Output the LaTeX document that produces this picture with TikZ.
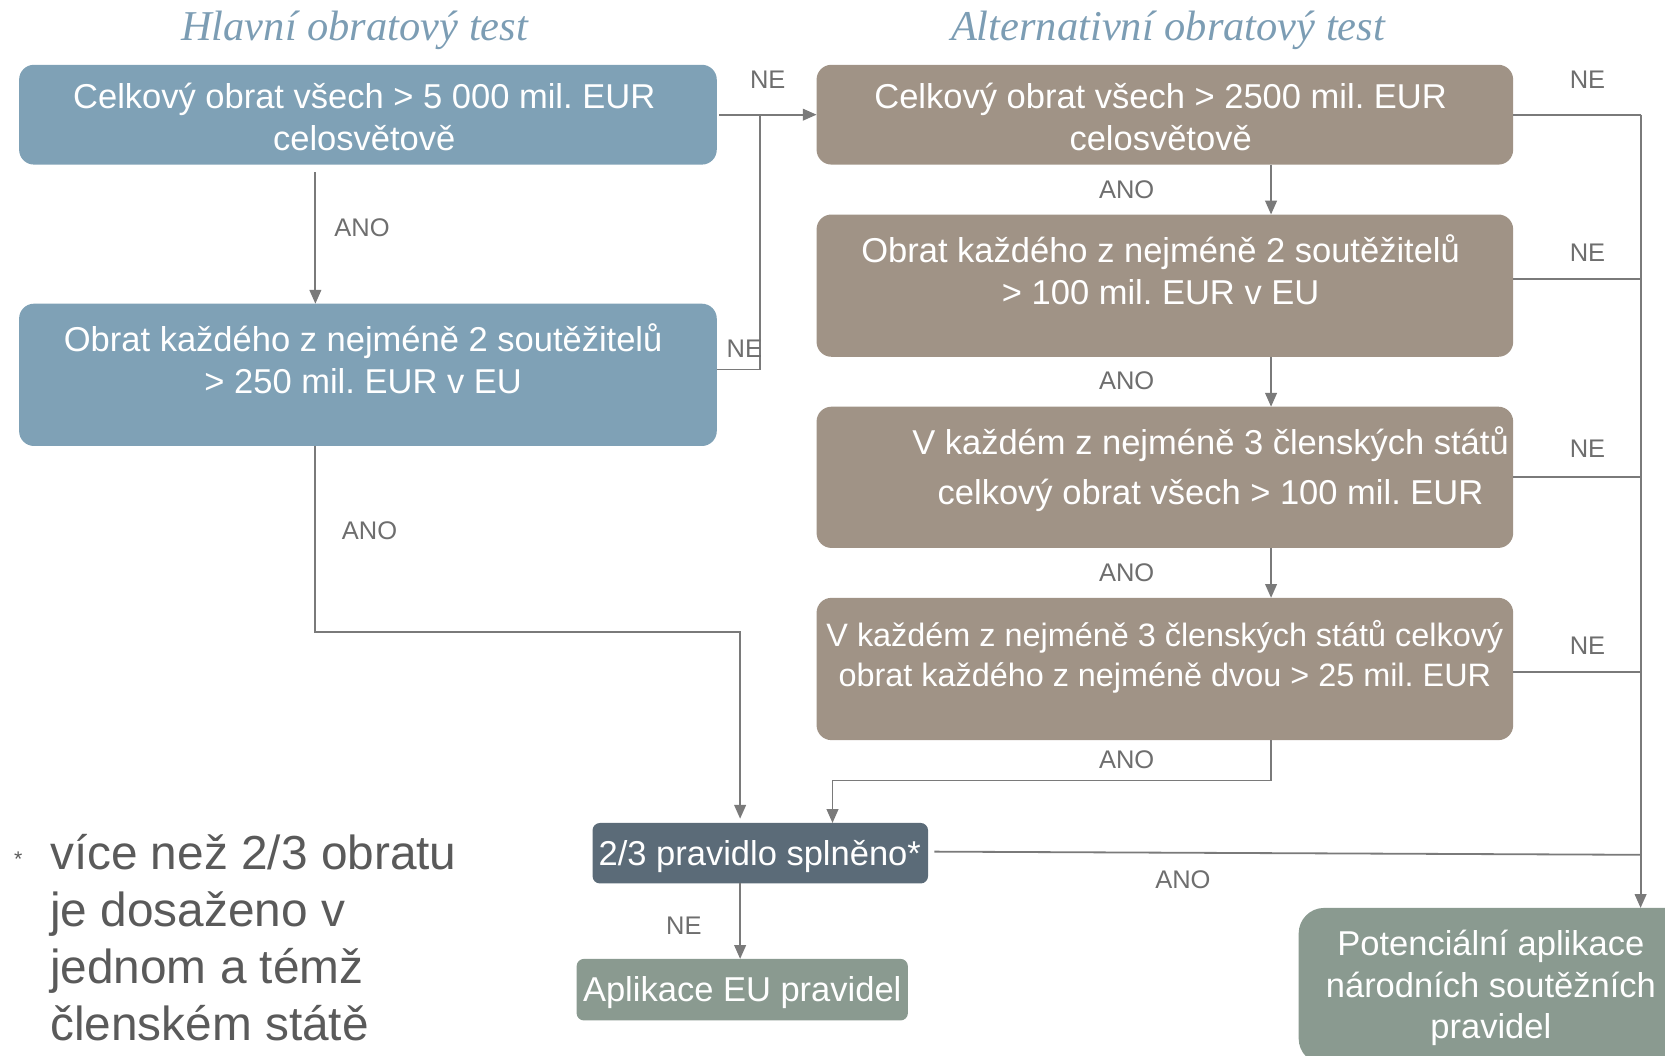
\documentclass[tikz,border=0pt]{standalone}
\usepackage{fontspec}
\setmainfont{Liberation Sans}
\newfontfamily\headfont{Liberation Serif}
\usetikzlibrary{arrows.meta,calc}
\frenchspacing

\definecolor{boxblue}{HTML}{7FA1B6}
\definecolor{boxbrown}{HTML}{A09386}
\definecolor{boxslate}{HTML}{5B6B78}
\definecolor{boxsage}{HTML}{8A9A90}
\definecolor{linegray}{HTML}{7A7A7A}
\definecolor{labelgray}{HTML}{6E6E6E}
\definecolor{headblue}{HTML}{7C9DB4}
\definecolor{notegray}{HTML}{5A5A5A}

\begin{document}
\begin{tikzpicture}[x=1pt,y=-1pt,
  panel/.style={draw=none, inner sep=0, outer sep=0},
  boxtext/.style={text=white, inner sep=0, align=center, anchor=north,
    font=\fontsize{32.5}{39.5}\selectfont,
    execute at begin node=\rule{0pt}{25pt}},
  headtext/.style={text=headblue, inner sep=0, anchor=base,
    font=\headfont\itshape\fontsize{40}{40}\selectfont},
  tag/.style={text=labelgray, inner sep=0, anchor=base,
    font=\fontsize{24}{24}\selectfont},
  conn/.style={draw=linegray, line width=1.7pt},
  arr/.style={conn, -{Triangle[width=11pt,length=13pt]}}
]
\useasboundingbox (0,0) rectangle (1568,994);
\clip (0,0) rectangle (1568,994);

% column headings
\node[headtext] (h1) at (334,38) {Hlavní obratový test};
\node[headtext] (h2) at (1100,38) {Alternativní obratový test};

% main test (left column)
\node[panel, fill=boxblue, rounded corners=14pt, minimum width=657, minimum height=94] (a1) at (346.5,108) {};
\node[panel, fill=boxblue, rounded corners=14pt, minimum width=657, minimum height=134] (a2) at (346.5,353) {};
\node[boxtext] (a1t) at (343,78) {Celkový obrat všech > 5 000 mil. EUR\\celosvětově};
\node[boxtext] (a2t) at (342,305) {Obrat každého z nejméně 2 soutěžitelů\\> 250 mil. EUR v EU};

% alternative test (right column)
\node[panel, fill=boxbrown, rounded corners=14pt, minimum width=656, minimum height=94] (b1) at (1097,108) {};
\node[panel, fill=boxbrown, rounded corners=14pt, minimum width=656, minimum height=134] (b2) at (1097,269) {};
\node[panel, fill=boxbrown, rounded corners=14pt, minimum width=656, minimum height=133] (b3) at (1097,449.5) {};
\node[panel, fill=boxbrown, rounded corners=14pt, minimum width=656, minimum height=134] (b4) at (1097,630) {};
\node[boxtext] (b1t) at (1093,78) {Celkový obrat všech > 2500 mil. EUR\\celosvětově};
\node[boxtext] (b2t) at (1093,221) {Obrat každého z nejméně 2 soutěžitelů\\> 100 mil. EUR v EU};
\node[boxtext] (b3t) at (1140,402) {V každém z nejméně 3 členských států\\[7.5pt]celkový obrat všech > 100 mil. EUR};
\node[boxtext, font=\fontsize{30.5}{38}\selectfont] (b4t) at (1097,584) {V každém z nejméně 3 členských států celkový\\obrat každého z nejméně dvou > 25 mil. EUR};

% outcome boxes
\node[panel, fill=boxslate, rounded corners=7pt, minimum width=316, minimum height=57] (c) at (716,803.5) {};
\node[panel, fill=boxsage, rounded corners=7pt, minimum width=312, minimum height=58] (d) at (699,932) {};
\node[panel, fill=boxsage, rounded corners=24pt, minimum width=377, minimum height=147] (e) at (1411.5,928.5) {};
\node[boxtext] (ct) at (715.5,790) {2/3 pravidlo splněno*};
\node[boxtext] (dt) at (699,918) {Aplikace EU pravidel};
\node[boxtext, font=\fontsize{32.5}{39}\selectfont] (et) at (1404,876) {Potenciální aplikace\\národních soutěžních\\pravidel};

% footnote
\node[text=notegray, inner sep=0, anchor=base west, font=\fontsize{20}{20}\selectfont] (star) at (13,816) {*};
\node[text=notegray, inner sep=0, anchor=north west, align=left,
  font=\fontsize{45}{53.5}\selectfont] (note) at (47,785)
  {\rule{0pt}{34pt}více než 2/3 obratu\\je dosaženo v\\jednom a témž\\členském státě};

% connector lanes and bends
\coordinate (laneL) at (297,0);
\coordinate (laneJ) at (716,0);
\coordinate (laneC) at (697,0);
\coordinate (laneM) at (784,0);
\coordinate (laneB) at (1197,0);
\coordinate (laneR) at (1545,0);
\coordinate (bendA) at (297,595);
\coordinate (bendB) at (1197,735);
\coordinate (joinR) at (1545,805);

% main test connectors
\draw[arr] ([yshift=-7pt]a1.south -| laneL) -- (a2.north -| laneL);
\draw[arr] ([xshift=2pt]a1.east) -- (b1.west);
\draw[conn] ([yshift=5pt]a2.east) -| (laneJ |- a1.east);
\draw[arr, shorten >=4pt] (a2.south -| laneL) -- (bendA) -| (c.north -| laneC);

% alternative test connectors
\draw[arr] (b1.south -| laneB) -- (b2.north -| laneB);
\draw[arr] (b2.south -| laneB) -- (b3.north -| laneB);
\draw[arr] (b3.south -| laneB) -- (b4.north -| laneB);
\draw[arr] (b4.south -| laneB) -- (bendB) -| (c.north -| laneM);

% "NE" branches to the national rules
\draw[conn] (b1.east) -- (b1.east -| laneR);
\draw[conn] ([yshift=6pt]b2.east) -- ([yshift=6pt]b2.east -| laneR);
\draw[conn] (b3.east) -- (b3.east -| laneR);
\draw[conn] ([yshift=-3pt]b4.east) -- ([yshift=-3pt]b4.east -| laneR);
\draw[arr] (b1.east -| laneR) -- (e.north -| laneR);
\draw[conn] ([xshift=6pt,yshift=1.5pt]c.east) -- (joinR);
\draw[arr] (c.south -| laneC) -- (d.north -| laneC);

% branch labels
\node[tag] (ne1) at (723,83) {NE};
\node[tag] (ano1) at (341,223) {ANO};
\node[tag] (ne2) at (701,337) {NE};
\node[tag] (ano2) at (348,508) {ANO};
\node[tag] (ano3) at (1061,187) {ANO};
\node[tag] (ano4) at (1061,367) {ANO};
\node[tag] (ano5) at (1061,548) {ANO};
\node[tag] (ano6) at (1061,724) {ANO};
\node[tag] (ne3) at (1495,83) {NE};
\node[tag] (ne4) at (1495,246) {NE};
\node[tag] (ne5) at (1495,431) {NE};
\node[tag] (ne6) at (1495,616) {NE};
\node[tag] (ano7) at (1114,837) {ANO};
\node[tag] (ne7) at (644,880) {NE};
\end{tikzpicture}
\end{document}
